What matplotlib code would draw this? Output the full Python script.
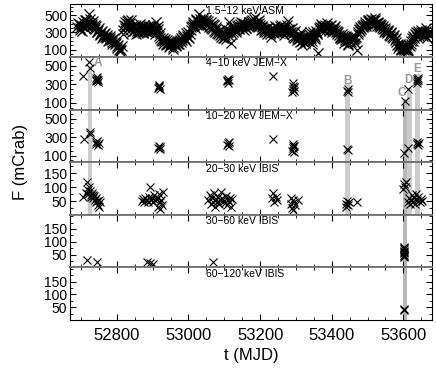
import matplotlib
matplotlib.use('Agg')
import matplotlib.pyplot as plt
import numpy as np
from matplotlib.ticker import MultipleLocator, FixedLocator

plt.rcParams['font.family'] = ['Liberation Sans', 'DejaVu Sans']

# RXTE/ASM 1.5-12 keV light curve, two interleaved 4-day samplings
t_asm_a = np.arange(52690, 53675, 4)
f_asm_a = [
    360, 400, 330, 380, 420, 350, 440, 390, 510, 410,
    370, 430, 340, 380, 300, 350, 280, 320, 260, 290,
    230, 270, 210, 240, 190, 220, 160, 180, 120, 90,
    80, 140, 330, 420, 380, 450, 360, 410, 300, 390,
    340, 280, 370, 310, 400, 330, 290, 360, 320, 380,
    300, 350, 330, 390, 280, 420, 340, 260, 230, 200,
    170, 220, 150, 190, 130, 200, 160, 110, 180, 140,
    200, 170, 240, 210, 270, 220, 290, 250, 230, 330,
    380, 420, 350, 460, 400, 510, 430, 380, 470, 410,
    440, 390, 360, 420, 340, 390, 300, 360, 280, 320,
    250, 300, 230, 270, 340, 300, 420, 180, 280, 330,
    360, 310, 390, 340, 420, 370, 330, 400, 350, 380,
    420, 380, 450, 390, 480, 400, 360, 410, 330, 370,
    300, 340, 280, 360, 310, 250, 330, 290, 370, 320,
    350, 290, 390, 330, 270, 360, 300, 430, 340, 310,
    280, 240, 320, 210, 260, 190, 300, 150, 230, 180,
    260, 200, 310, 240, 170, 270, 220, 290, 65, 330,
    400, 350, 370, 320, 410, 360, 340, 390, 300, 350,
    330, 280, 310, 250, 220, 260, 180, 240, 200, 150,
    230, 190, 260, 220, 180, 95, 300, 360, 340, 390,
    370, 420, 400, 440, 410, 460, 430, 400, 450, 380,
    410, 360, 390, 340, 310, 350, 290, 320, 260, 300,
    240, 270, 190, 150, 120, 170, 90, 130, 100, 150,
    120, 80, 140, 200, 260, 230, 300, 250, 320, 280,
    330, 260, 300, 350, 240, 290, 320,
]
t_asm_b = np.arange(52692, 53675, 4)
f_asm_b = [
    410, 350, 390, 320, 370, 440, 380, 420, 460, 380,
    400, 350, 390, 310, 330, 270, 310, 240, 280, 250,
    250, 200, 260, 210, 170, 240, 190, 140, 150, 110,
    100, 280, 390, 350, 430, 400, 330, 440, 360, 320,
    370, 320, 290, 350, 360, 300, 390, 340, 300, 350,
    370, 310, 360, 320, 350, 300, 380, 290, 210, 240,
    200, 160, 210, 170, 150, 180, 130, 170, 150, 190,
    160, 210, 190, 250, 240, 200, 260, 300, 280, 360,
    400, 370, 440, 390, 430, 460, 400, 440, 420, 450,
    400, 430, 380, 350, 400, 320, 340, 290, 330, 270,
    280, 240, 290, 220, 300, 260, 320, 360, 310, 350,
    330, 370, 350, 400, 360, 410, 380, 350, 390, 420,
    390, 430, 400, 460, 420, 380, 440, 390, 360, 340,
    330, 300, 350, 320, 280, 350, 300, 340, 300, 350,
    320, 370, 310, 360, 320, 300, 390, 330, 290, 350,
    250, 300, 260, 240, 220, 270, 200, 250, 200, 240,
    220, 280, 250, 200, 300, 250, 320, 280, 350, 360,
    370, 330, 390, 350, 380, 320, 370, 340, 330, 370,
    300, 320, 270, 240, 280, 230, 210, 260, 170, 210,
    200, 240, 210, 230, 250, 280, 340, 320, 380, 360,
    400, 380, 430, 450, 420, 400, 440, 470, 410, 420,
    380, 400, 350, 370, 330, 300, 330, 270, 290, 250,
    260, 210, 230, 170, 140, 110, 140, 110, 120, 90,
    100, 150, 170, 230, 200, 280, 270, 290, 260, 310,
    290, 310, 270, 320, 280, 300,
]
t_asm = np.concatenate([t_asm_a, t_asm_b])
f_asm = f_asm_a + f_asm_b

# JEM-X 4-10 keV
t_jx1 = [52706, 52723, 52724, 52741, 52742, 52743, 52744, 52745, 52746, 52747,
         52748, 52916, 52917, 52918, 52919, 52920, 53108, 53109, 53110, 53111,
         53112, 53236, 53290, 53291, 53292, 53293, 53294, 53295, 53443, 53444,
         53445, 53604, 53614, 53637, 53638, 53639, 53640, 53641]
f_jx1 = [390, 540, 470, 330, 370, 350, 380, 340, 360, 320,
         350, 260, 290, 270, 280, 250, 330, 350, 310, 360,
         340, 390, 220, 280, 250, 310, 230, 270, 230, 250,
         215, 120, 250, 330, 360, 310, 370, 340]

# JEM-X 10-20 keV
t_jx2 = [52709, 52725, 52726, 52741, 52743, 52745, 52747, 52749, 52916, 52918,
         52920, 52922, 53108, 53110, 53112, 53114, 53236, 53290, 53291, 53292,
         53293, 53294, 53295, 53443, 53445, 53602, 53614, 53637, 53639, 53641,
         53643]
f_jx2 = [276, 360, 330, 250, 230, 260, 220, 240, 180, 200,
         170, 190, 220, 240, 210, 250, 277, 150, 200, 180,
         230, 140, 210, 170, 160, 125, 180, 230, 250, 215,
         240]

# IBIS 20-30 keV
t_ib1 = [52706, 52715, 52717, 52719, 52721, 52723, 52725, 52727, 52729, 52731,
         52733, 52735, 52737, 52739, 52741, 52743, 52745, 52747, 52749, 52751,
         52753,
         52871, 52874, 52877, 52880, 52883, 52886, 52889, 52892, 52895, 52898,
         52901, 52904, 52907, 52910,
         52914, 52916, 52918, 52920, 52922, 52924, 52926, 52928,
         53056, 53059, 53062, 53065, 53068, 53071, 53074, 53077, 53080, 53083,
         53086, 53089, 53092, 53095, 53098, 53101, 53104, 53107, 53110, 53113,
         53116, 53119, 53122,
         53234, 53237, 53240, 53243, 53246,
         53285, 53287, 53289, 53291, 53293, 53295, 53297, 53306,
         53439, 53441, 53443, 53445, 53447, 53471,
         53600, 53602, 53604, 53606,
         53612, 53615, 53618, 53621, 53624, 53627, 53630, 53633, 53636, 53639,
         53642, 53645, 53648, 53652]
f_ib1 = [64, 80, 118, 90, 75, 100, 85, 70, 65, 80,
         72, 60, 68, 55, 62, 45, 50, 35, 55, 28,
         48,
         50, 58, 45, 62, 52, 48, 66, 100, 55, 60,
         45, 70, 52, 58,
         60, 30, 75, 45, 20, 55, 35, 82,
         55, 70, 40, 62, 48, 80, 30, 58, 45, 65,
         38, 55, 82, 60, 50, 42, 68, 35, 55, 48,
         62, 30, 58,
         60, 78, 45, 65, 52,
         40, 60, 25, 52, 18, 45, 35, 53,
         40, 28, 50, 35, 45, 46,
         95, 110, 100, 118,
         45, 60, 38, 55, 70, 48, 62, 40, 75, 52,
         66, 45, 58, 50]

# IBIS 30-60 keV
t_ib2 = [52717, 52745, 52885, 52893, 52902, 53069,
         53602, 53602, 53602, 53602, 53602, 53603, 53603, 53603, 53603]
f_ib2 = [29, 21, 20, 19, 15, 21,
         40, 50, 60, 70, 80, 45, 55, 65, 75]

# IBIS 60-120 keV
t_ib3 = [53602, 53603]
f_ib3 = [39, 42]

labels = ['1.5\u221212 keV ASM', '4\u221210 keV JEM\u2212X', '10\u221220 keV JEM\u2212X',
          '20\u221230 keV IBIS', '30\u221260 keV IBIS', '60\u2212120 keV IBIS']
times = [t_asm, t_jx1, t_jx2, t_ib1, t_ib2, t_ib3]
fluxes = [f_asm, f_jx1, f_jx2, f_ib1, f_ib2, f_ib3]
ylims = [(13, 626), (28, 591), (28, 600), (0, 190), (0, 205), (0, 205)]

# highlighted observations A-E
band_names = ['A', 'B', 'C', 'D', 'E']
band_t0 = [52721, 53437, 53600, 53611, 53633]
band_t1 = [52732, 53451, 53611, 53625, 53647]
band_top = [500, 304, 141, 260, 413]     # in 4-10 keV flux units
band_last = [3, 3, 5, 3, 3]               # last panel index reached
band_col = ['#cccccc', '#cccccc', '#b8b8b8', '#cccccc', '#cccccc']
lab_t = [52748, 53443, 53595, 53614, 53639]
lab_f = [522, 337, 210, 345, 465]

fig, axes = plt.subplots(6, 1, sharex=True, figsize=(4.36, 3.70), dpi=100)
fig.subplots_adjust(left=0.161, right=0.991, top=0.988, bottom=0.135, hspace=0)

for i, ax in enumerate(axes):
    ax.set_xlim(52670, 53680)
    ax.set_ylim(*ylims[i])
    y0, y1 = ylims[i]
    for k in range(len(band_names)):
        if 1 <= i <= band_last[k]:
            top = 1.0
            if i == 1:
                top = (band_top[k] - y0) / (y1 - y0)
            ax.axvspan(band_t0[k], band_t1[k], ymax=top, color=band_col[k],
                       lw=0, zorder=0)
    if i == 0:
        ax.plot(times[i], fluxes[i], 'x', color='k', ms=7, mew=0.9, zorder=2)
    else:
        ax.plot(times[i], fluxes[i], 'x', color='k', ms=5.5, mew=0.8, zorder=2)
    ax.text(0.375, 0.88, labels[i], transform=ax.transAxes, fontsize=7.5,
            va='center', ha='left')

    ax.xaxis.set_major_locator(MultipleLocator(200))
    ax.xaxis.set_minor_locator(MultipleLocator(50))
    if i < 3:
        ax.yaxis.set_major_locator(FixedLocator([100, 300, 500]))
        ax.yaxis.set_minor_locator(MultipleLocator(50))
    else:
        ax.yaxis.set_major_locator(FixedLocator([50, 100, 150]))
        ax.yaxis.set_minor_locator(MultipleLocator(25))
    ax.tick_params(which='both', direction='in', top=True, right=True)
    ax.tick_params(which='major', length=4, width=0.8)
    ax.tick_params(which='minor', length=2, width=0.6)
    ax.tick_params(axis='y', labelsize=10, pad=2)
    ax.tick_params(axis='x', labelsize=12, pad=6)
    if i > 0:
        ax.spines['top'].set_color('#707070')
        ax.spines['top'].set_linewidth(1.3)
    if i < 5:
        ax.spines['bottom'].set_color('#707070')
        ax.spines['bottom'].set_linewidth(1.3)

for k in range(len(band_names)):
    axes[1].text(lab_t[k], lab_f[k], band_names[k], color='#999999',
                 fontsize=8.5, fontweight='bold', ha='center', va='center')

axes[-1].set_xlabel('t (MJD)', fontsize=12, labelpad=3)
fig.text(0.046, 0.562, 'F (mCrab)', rotation=90, fontsize=12,
         va='center', ha='center')

fig.savefig('out.png', dpi=100)
